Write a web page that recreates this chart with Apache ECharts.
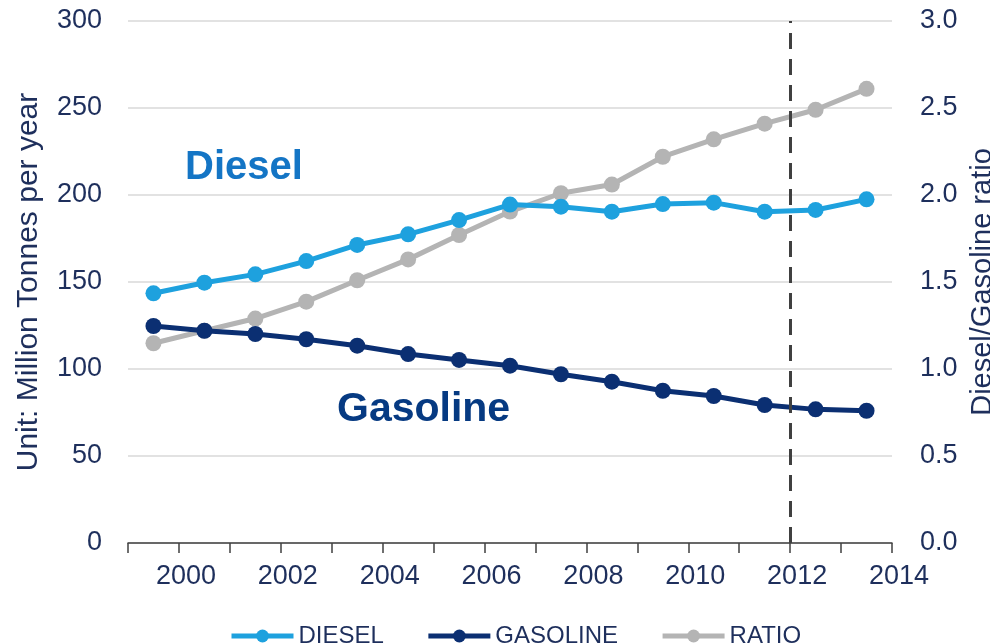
<!DOCTYPE html>
<html>
<head>
<meta charset="utf-8">
<script src="https://cdn.jsdelivr.net/npm/echarts@6/dist/echarts.min.js"></script>
<style>
html,body{margin:0;padding:0;background:#fff;}
#chart{width:990px;height:643px;}
</style>
</head>
<body>
<div id="chart"></div>
<script>
// ---- data ----
const years = ['1999','2000','2001','2002','2003','2004','2005','2006','2007','2008','2009','2010','2011','2012','2013'];
const diesel = [143.5,149.6,154.4,162,171.3,177.4,185.6,194.5,193.3,190.4,194.8,195.6,190.4,191.4,197.5];
const gasoline = [124.7,122,120.1,117.1,113.4,108.6,105.2,101.9,97,92.7,87.5,84.5,79.3,76.8,76];
const ratio = [1.148,1.22,1.29,1.387,1.51,1.63,1.77,1.905,2.01,2.06,2.22,2.32,2.41,2.49,2.61];
const xTickMin = 1999, xTickMax = 2014;
const forecastStart = 2012;
const leftAxisName = 'Unit: Million Tonnes per year';
const rightAxisName = 'Diesel/Gasoline ratio';

const FONT = "'Liberation Sans', Arial, sans-serif";
const LABEL = '#1e2f5c';
const cDiesel = '#1ea1de', cGas = '#0b2f72', cRatio = '#b4b4b4';

const chart = echarts.init(document.getElementById('chart'), null, {renderer:'canvas'});
const lineStyle = (c) => ({
  type:'line', symbol:'circle', symbolSize:16, lineStyle:{width:5,color:c},
  itemStyle:{color:c}, emphasis:{disabled:true}
});
chart.setOption({
  animation:false,
  textStyle:{fontFamily:FONT},
  grid:{left:128,right:98,top:21,bottom:100,containLabel:false,outerBoundsMode:'none'},
  legend:{
    left:224, top:619, itemWidth:62, itemHeight:16, itemGap:42,
    lineStyle:{width:5},
    textStyle:{fontSize:24,color:LABEL,fontFamily:FONT},
    data:['DIESEL','GASOLINE','RATIO']
  },
  xAxis:[
    {type:'category', data:years, boundaryGap:true, show:false, gridIndex:0},
    {type:'value', min:xTickMin, max:xTickMax, interval:1, position:'bottom', gridIndex:0,
     axisLine:{show:true,lineStyle:{color:'#404040',width:1.5}},
     axisTick:{show:true,length:10,lineStyle:{color:'#404040',width:1.5}},
     splitLine:{show:false},
     axisLabel:{fontSize:27,color:LABEL,margin:20,padding:[0,0,0,14],
       formatter:(v)=> (v%2===0 ? String(v) : '')}
    }
  ],
  yAxis:[
    {type:'value', min:0, max:300, interval:50, position:'left',
     name:leftAxisName, nameLocation:'middle', nameRotate:90, nameGap:84,
     nameTextStyle:{fontSize:30,color:LABEL},
     axisLine:{show:false}, axisTick:{show:false},
     axisLabel:{fontSize:27,color:LABEL,margin:26},
     splitLine:{show:true,lineStyle:{color:'#d9d9d9',width:1.5}}
    },
    {type:'value', min:0, max:3, interval:0.5, position:'right',
     name:rightAxisName, nameLocation:'middle', nameRotate:90, nameGap:76,
     nameTextStyle:{fontSize:29,color:LABEL},
     axisLine:{show:false}, axisTick:{show:false},
     axisLabel:{fontSize:27,color:LABEL,margin:28,formatter:(v)=>v.toFixed(1)},
     splitLine:{show:false}
    }
  ],
  series:[
    Object.assign(lineStyle(cRatio),{name:'RATIO', xAxisIndex:0, yAxisIndex:1, data:ratio, z:2}),
    Object.assign(lineStyle(cGas),{name:'GASOLINE', xAxisIndex:0, yAxisIndex:0, data:gasoline, z:3}),
    Object.assign(lineStyle(cDiesel),{name:'DIESEL', xAxisIndex:0, yAxisIndex:0, data:diesel, z:4}),
    {type:'line', name:'forecast', xAxisIndex:1, yAxisIndex:0, data:[], silent:true,
     markLine:{symbol:'none', silent:true, label:{show:false},
       lineStyle:{color:'#404040',width:3,type:[16,10]},
       data:[{xAxis:forecastStart}]}
    }
  ],
  graphic:[
    {type:'text', left:185, top:148, style:{text:'Diesel', font:"bold 40px "+FONT, fill:'#1475c5'}},
    {type:'text', left:337, top:389, style:{text:'Gasoline', font:"bold 41px "+FONT, fill:'#063a82'}}
  ]
});
</script>
</body>
</html>
